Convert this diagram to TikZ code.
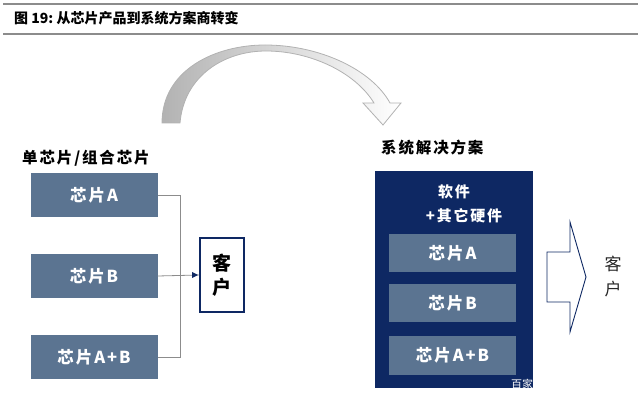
\documentclass[tikz,border=0pt]{standalone}
\usepackage{fontspec}
\setmainfont{Noto Sans CJK SC}
\newfontfamily\spaced{Noto Sans CJK SC}[LetterSpace=12]
\usetikzlibrary{positioning, arrows}
\definecolor{slate}{HTML}{5B7491}
\definecolor{navy}{HTML}{0E2863}
\definecolor{rule}{HTML}{8C8C8C}
\tikzset{>=stealth', x=1pt, y=-1pt,
  chip/.style={fill=slate, text=white, font=\spaced\bfseries\fontsize{16.5}{16}\selectfont,
    minimum width=127pt, minimum height=44pt, inner sep=0pt},
  inchip/.style={chip, minimum height=38pt},
  label/.style={font=\spaced\bfseries\fontsize{15.5}{16}\selectfont, anchor=west, inner sep=0pt}}

\begin{document}
\begin{tikzpicture}
    \useasboundingbox (0,0) rectangle (640,403);
    % title bar
    \draw[rule, line width=2pt] (3,4) -- (638,4);
    \draw[rule, line width=1.5pt] (3,34) -- (638,34);
    \node[label, font=\bfseries\fontsize{14}{14}\selectfont] (title) at (14,18) {图 19:\ 从芯片产品到系统方案商转变};

    % curved arrow
    \draw[gray!60, left color=gray!60, right color=white, line width=0.8pt]
        (162,123) .. controls (162,70) and (215,45) .. (265,45)
        .. controls (320,45) and (372,70) .. (390,103) -- (401,103) -- (383,125)
        -- (363,103) -- (374,103) .. controls (355,72) and (310,51) .. (266,51)
        .. controls (224,51) and (184,76) .. (180,123) -- cycle;

    % single chip / chip combination
    \node[label] (single) at (22,158) {单芯片/组合芯片};
    \node[chip] (chipA) at (94,195) {芯片A};
    \node[chip] (chipB) at (94,276) {芯片B};
    \node[chip] (chipAB) at (94,357) {芯片A+B};
    \node[draw=navy, line width=1.6pt, minimum width=44pt, minimum height=74pt,
          inner sep=0pt, align=center, font=\bfseries\fontsize{19}{24}\selectfont] (client) at (222,275) {客\\户};
    \draw[rule, line width=0.8pt] (chipA.east) -- ++(23,0) |- (chipAB.east);
    \draw[rule, line width=0.8pt] (chipB.east) -- (client.west);
    \fill[navy] (client.west) ++(-1,0) -- ++(-6,-3) -- ++(0,6) -- cycle;

    % system solution
    \node[label] (system) at (381,148) {系统解决方案};
    \node[fill=navy, minimum width=158pt, minimum height=217pt, inner sep=0pt] (sys) at (454,279.5) {};
    \node[text=white, font=\spaced\bfseries\fontsize{15}{15}\selectfont] (soft) at (454,192) {软件};
    \node[text=white, font=\spaced\bfseries\fontsize{15}{15}\selectfont] (hard) at (464,216) {+其它硬件};
    \node[inchip] (sysA) at (452.5,253) {芯片A};
    \node[inchip] (sysB) at (452.5,303.5) {芯片B};
    \node[inchip] (sysAB) at (452.5,355.5) {芯片A+B};
    \begin{scope}
      \clip (sys.south west) rectangle (sys.north east);
      \node[text=white, font=\fontsize{11}{11}\selectfont, anchor=west, inner sep=0pt] (mark) at (511,384) {百家};
    \end{scope}

    % block arrow to the client
    \draw[navy, line width=0.9pt, fill=white]
        (547,252) -- (570,252) -- (570,222) -- (586,277) -- (570,332) -- (570,302) -- (547,302) -- cycle;
    \node[align=center, font=\fontsize{17}{25}\selectfont, text=black!85] (client2) at (613,277) {客\\户};
\end{tikzpicture}
\end{document}
